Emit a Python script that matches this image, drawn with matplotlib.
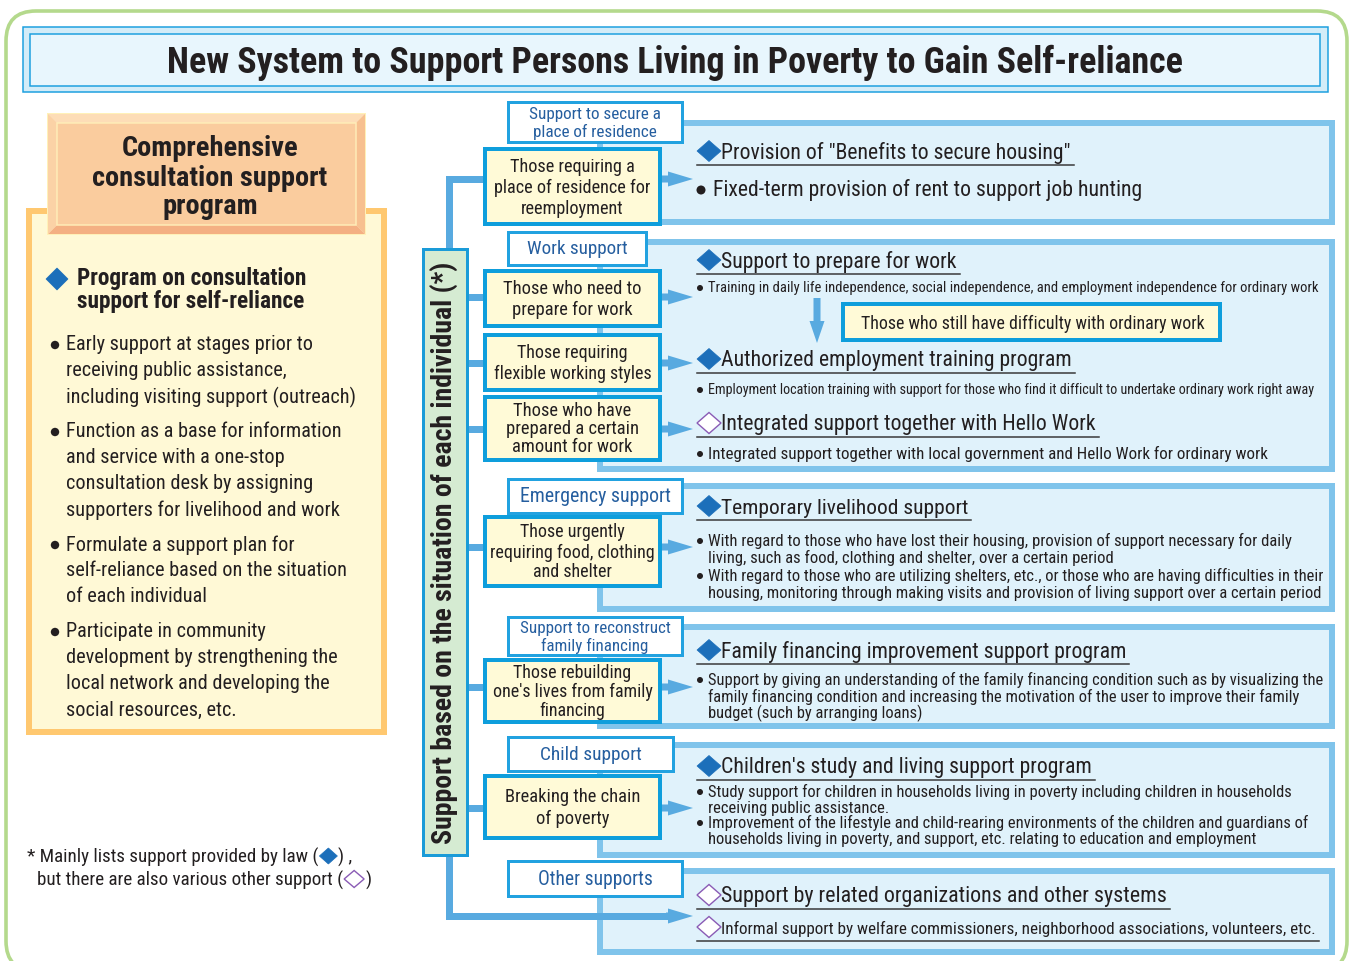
import matplotlib
matplotlib.use("Agg")
import matplotlib.pyplot as plt
from matplotlib.patches import Rectangle, FancyBboxPatch, Polygon, FancyArrow, Circle
from matplotlib import font_manager
from matplotlib.font_manager import FontProperties

# ---------------- data ----------------
TITLE = "New System to Support Persons Living in Poverty to Gain Self-reliance"
LEFT_HEADER = ["Comprehensive", "consultation support", "program"]
LEFT_SUB = ["Program on consultation", "support for self-reliance"]
LEFT_BULLETS = [
    ["Early support at stages prior to", "receiving public assistance,",
     "including visiting support (outreach)"],
    ["Function as a base for information", "and service with a one-stop",
     "consultation desk by assigning", "supporters for livelihood and work"],
    ["Formulate a support plan for", "self-reliance based on the situation",
     "of each individual"],
    ["Participate in community", "development by strengthening the",
     "local network and developing the", "social resources, etc."],
]
VERTICAL_LABEL = "Support based on the situation of each individual (*)"
FOOTNOTE_1 = ["* Mainly lists support provided by law (", ") ,"]
FOOTNOTE_2 = ["but there are also various other support (", ")"]

CATEGORIES = [["Support to secure a", "place of residence"], ["Work support"],
              ["Emergency support"], ["Support to reconstruct", "family financing"],
              ["Child support"], ["Other supports"]]
TARGETS = [["Those requiring a", "place of residence for", "reemployment"],
           ["Those who need to", "prepare for work"],
           ["Those requiring", "flexible working styles"],
           ["Those who have", "prepared a certain", "amount for work"],
           ["Those urgently", "requiring food, clothing", "and shelter"],
           ["Those rebuilding", "one's lives from family", "financing"],
           ["Breaking the chain", "of poverty"]]
STILL_DIFFICULT = "Those who still have difficulty with ordinary work"

PANEL_ITEMS = [
    [("law", ['Provision of "Benefits to secure housing"']),
     ("big", ["Fixed-term provision of rent to support job hunting"])],
    [("law", ["Support to prepare for work"]),
     ("bullet", ["Training in daily life independence, social independence, and employment independence for ordinary work"]),
     ("law", ["Authorized employment training program"]),
     ("bullet", ["Employment location training with support for those who find it difficult to undertake ordinary work right away"]),
     ("other", ["Integrated support together with Hello Work"]),
     ("bullet", ["Integrated support together with local government and Hello Work for ordinary work"])],
    [("law", ["Temporary livelihood support"]),
     ("bullet", ["With regard to those who have lost their housing, provision of support necessary for daily",
                 "living, such as food, clothing and shelter, over a certain period"]),
     ("bullet", ["With regard to those who are utilizing shelters, etc., or those who are having difficulties in their",
                 "housing, monitoring through making visits and provision of living support over a certain period"])],
    [("law", ["Family financing improvement support program"]),
     ("bullet", ["Support by giving an understanding of the family financing condition such as by visualizing the",
                 "family financing condition and increasing the motivation of the user to improve their family",
                 "budget (such by arranging loans)"])],
    [("law", ["Children's study and living support program"]),
     ("bullet", ["Study support for children in households living in poverty including children in households",
                 "receiving public assistance."]),
     ("bullet", ["Improvement of the lifestyle and child-rearing environments of the children and guardians of",
                 "households living in poverty, and support, etc. relating to education and employment"])],
    [("other", ["Support by related organizations and other systems"]),
     ("other", ["Informal support by welfare commissioners, neighborhood associations, volunteers, etc."])],
]

# ---------------- fonts ----------------
def _wt(w):
    if isinstance(w, (int, float)):
        return int(w)
    return font_manager.weight_dict.get(str(w), 400)


FAMILY_PREF = ["Liberation Sans", "Roboto", "DejaVu Sans", "Open Sans", "Noto Sans", "Lato", "Inter"]


def pick_font(bold):
    best, best_key = None, None
    for f in font_manager.fontManager.ttflist:
        if f.style != "normal":
            continue
        nm = f.name
        fn = f.fname.lower().replace("-", "").replace("_", "")
        if "mono" in nm.lower() or "serif" in nm.lower():
            continue
        if "extracond" in fn or "ultracond" in fn:
            continue
        cond = ("Narrow" in nm) or ("Condensed" in nm) or ("condensed" in str(f.stretch)) \
            or ("narrow" in fn) or ("condensed" in fn)
        if not cond:
            continue
        fam_rank = len(FAMILY_PREF)
        for i, p in enumerate(FAMILY_PREF):
            if nm.startswith(p):
                fam_rank = i
                break
        semi = 1 if ("semicond" in fn or "semi" in str(f.stretch)) else 0
        key = (fam_rank, semi, abs(_wt(f.weight) - (700 if bold else 400)))
        if best_key is None or key < best_key:
            best, best_key = f, key
    if best is not None and abs(_wt(best.weight) - (700 if bold else 400)) <= 150:
        return FontProperties(fname=best.fname)
    return FontProperties(family=["Liberation Sans", "DejaVu Sans"],
                          weight="bold" if bold else "normal")


FP_REG = pick_font(False)
FP_BOLD = pick_font(True)

# ---------------- layout ----------------
TXT = "#231F20"
BLUE_TXT = "#255E9F"
LINE_C = "#58AAE0"
PANEL_EC = "#80C4EB"
PANEL_FC = "#E0F2FB"
YEL_FC = "#FFFAD7"
YEL_EC = "#0E9EDC"
LAW_C = "#1C6FBA"
OTHER_C = "#8A5BB5"

CAT_BOX = [(508, 103, 682, 143), (508, 233, 646, 266), (508, 480, 682, 514),
           (508, 618, 682, 656), (508, 738, 673, 772), (508, 862, 682, 897)]
CAT_FIT = [131, 101, 150, 150, 102, 114]
TGT_BOX = [(485, 150, 660, 225), (485, 272, 660, 327), (485, 336, 660, 391),
           (485, 398, 660, 461), (485, 518, 660, 587), (485, 661, 660, 723),
           (485, 777, 660, 839)]
TGT_FIT = [156, 137, 157, 132, 165, 159, 134]
TGT_GAP = [21, 21, 21, 18, 20, 19, 21]
ARROW_Y = [180, 298, 364, 430, 548, 688, 809]
PANELS = [(600, 124, 1332, 223), (600, 243, 1332, 470), (600, 487, 1332, 610),
          (600, 628, 1332, 727), (600, 746, 1332, 856), (600, 872, 1332, 953)]
ITEM_Y = [[153, 190], [262, 288, 361, 390, 425, 454], [508, 541, 576],
          [652, 680], [768, 792, 823], [897, 929]]
ITEM_W = [[349, 428], [236, 606, 349, 608, 373, 556], [247, 579, 612],
          [405, 613], [372, 581, 597], [443, 592]]
ITEM_GAP = 16.5

fig = plt.figure(figsize=(13.5, 9.62), dpi=100)
ax = fig.add_axes([0, 0, 1, 1])
ax.set_xlim(0, 1350)
ax.set_ylim(962, 0)
ax.axis("off")
R = fig.canvas.get_renderer()


def _fp(bold, size):
    fp = (FP_BOLD if bold else FP_REG).copy()
    fp.set_size(size)
    return fp


def fit_size(s, target, bold=False):
    t = ax.text(0, 0, s, fontproperties=_fp(bold, 10))
    w = t.get_window_extent(renderer=R).width
    t.remove()
    return 10.0 * target / w


def put(x, y, s, size, ha="left", va="center", bold=False, color=TXT, rot=0, z=10):
    return ax.text(x, y, s, fontproperties=_fp(bold, size), ha=ha, va=va,
                   color=color, rotation=rot, zorder=z)


def rect(x0, y0, x1, y1, fc, ec, lwpx, z=2):
    ax.add_patch(Rectangle((x0, y0), x1 - x0, y1 - y0, fc=fc, ec=ec,
                           lw=lwpx * 0.72, zorder=z, joinstyle="miter"))


def diamond(x, y, hw, hh, filled, z=12):
    pts = [(x - hw, y), (x, y - hh), (x + hw, y), (x, y + hh)]
    if filled:
        ax.add_patch(Polygon(pts, closed=True, fc=LAW_C, ec=LAW_C, lw=0.5, zorder=z))
    else:
        ax.add_patch(Polygon(pts, closed=True, fc="white", ec=OTHER_C, lw=1.0, zorder=z))


def line(xs, ys, w=7, z=3, color=LINE_C):
    ax.plot(xs, ys, color=color, lw=w * 0.72, solid_capstyle="butt",
            solid_joinstyle="miter", zorder=z)


def arrow_r(x0, x1, y, z=4):
    ax.add_patch(FancyArrow(x0, y, x1 - x0, 0, width=7, head_width=15, head_length=25,
                            length_includes_head=True, color=LINE_C, lw=0, zorder=z))


# outer green rounded frame
ax.add_patch(FancyBboxPatch((6, 12), 1341, 960, boxstyle="round,pad=0,rounding_size=30",
                            fc="white", ec="#B4D98C", lw=2.6, zorder=0))

# title
rect(23, 28, 1328, 93, "#D3ECF8", "#1B9FDF", 1.5, z=1)
rect(30, 35, 1320, 87, "#E8F6FD", "#1B9FDF", 1.5, z=1)
put(675, 63, TITLE, fit_size(TITLE, 1018, True), ha="center", bold=True)

# left framed box
rect(29, 212, 384, 733, "#FFF9D6", "#FFC870", 6, z=1)
# bevelled header
hx0, hy0, hx1, hy1, b = 48, 115, 365, 235, 9
rect(hx0, hy0, hx1, hy1, "#FDE3C0", "#FFF1B8", 2, z=2)
ax.add_patch(Polygon([(hx0, hy0), (hx1, hy0), (hx1 - b, hy0 + b), (hx0 + b, hy0 + b)],
                     fc="#FDDDB7", ec="none", zorder=3))
ax.add_patch(Polygon([(hx0, hy1), (hx1, hy1), (hx1 - b, hy1 - b), (hx0 + b, hy1 - b)],
                     fc="#F4B083", ec="none", zorder=3))
ax.add_patch(Polygon([(hx0, hy0), (hx0 + b, hy0 + b), (hx0 + b, hy1 - b), (hx0, hy1)],
                     fc="#FBD2A6", ec="none", zorder=3))
ax.add_patch(Polygon([(hx1, hy0), (hx1 - b, hy0 + b), (hx1 - b, hy1 - b), (hx1, hy1)],
                     fc="#F7C090", ec="none", zorder=3))
rect(hx0 + b, hy0 + b, hx1 - b, hy1 - b, "#FACC9E", "#FFEDB8", 1.5, z=4)
hs = fit_size(LEFT_HEADER[1], 235, True)
for i, s in enumerate(LEFT_HEADER):
    put(210, 149 + 29 * i, s, hs, ha="center", bold=True)

diamond(57, 280, 11, 11, True)
ss = fit_size(LEFT_SUB[0], 229, True)
for i, s in enumerate(LEFT_SUB):
    put(77, 279 + 23 * i, s, ss, bold=True)

bs = fit_size(LEFT_BULLETS[0][2], 288)
LEFT_START = [345, 432, 545, 632]
for g, lines in enumerate(LEFT_BULLETS):
    ax.add_patch(Circle((55, LEFT_START[g] + 1), 4.2, fc=TXT, ec="none", zorder=11))
    for i, s in enumerate(lines):
        put(66, LEFT_START[g] + 26 * i, s, bs)

# footnote
fs = fit_size(FOOTNOTE_1[0], 291)
t1 = put(27, 857, FOOTNOTE_1[0], fs)
w1 = t1.get_window_extent(renderer=R).width
diamond(27 + w1 + 10, 857, 9, 8, True)
put(27 + w1 + 20, 857, FOOTNOTE_1[1], fs)
t2 = put(37, 880, FOOTNOTE_2[0], fs)
w2 = t2.get_window_extent(renderer=R).width
diamond(37 + w2 + 11, 880, 10, 8.5, False)
put(37 + w2 + 22, 880, FOOTNOTE_2[1], fs)

# connectors from vertical box
line([449, 449, 486], [250, 180, 180])
for y in ARROW_Y[1:]:
    line([466, 486], [y, y])
line([449, 449, 670], [856, 917, 917])
ax.add_patch(FancyArrow(666, 917, 27, 0, width=7, head_width=15, head_length=25,
                        length_includes_head=True, color=LINE_C, lw=0, zorder=4))

# vertical label box
rect(423, 250, 467, 856, "#D5EBD2", "#1A9BD8", 3, z=5)
put(444, 553, VERTICAL_LABEL, fit_size(VERTICAL_LABEL, 585, True), ha="center",
    bold=True, rot=90)

# right panels
for (x0, y0, x1, y1) in PANELS:
    rect(x0, y0, x1, y1, PANEL_FC, PANEL_EC, 6, z=2)

# category label boxes
for k, (box, lines) in enumerate(zip(CAT_BOX, CATEGORIES)):
    x0, y0, x1, y1 = box
    rect(x0, y0, x1, y1, "white", "#22A2E0", 3, z=6)
    sz = fit_size(lines[0], CAT_FIT[k])
    cy = (y0 + y1) / 2
    n = len(lines)
    for i, s in enumerate(lines):
        put((x0 + x1) / 2, cy + (i - (n - 1) / 2) * 17.5, s, sz, ha="center",
            color=BLUE_TXT, z=7)

# target (yellow) boxes and arrows
for k, (box, lines) in enumerate(zip(TGT_BOX, TARGETS)):
    x0, y0, x1, y1 = box
    rect(x0, y0, x1, y1, YEL_FC, YEL_EC, 4, z=6)
    widest = max(lines, key=len)
    sz = fit_size(widest, TGT_FIT[k])
    cy = (y0 + y1) / 2
    n = len(lines)
    for i, s in enumerate(lines):
        put((x0 + x1) / 2, cy + (i - (n - 1) / 2) * TGT_GAP[k], s, sz, ha="center", z=7)
    arrow_r(660, 693, ARROW_Y[k])

# down arrow + "still difficult" box in work panel
ax.add_patch(FancyArrow(817, 299, 0, 45, width=7, head_width=15, head_length=22,
                        length_includes_head=True, color=LINE_C, lw=0, zorder=4))
rect(843, 305, 1220, 341, YEL_FC, YEL_EC, 4, z=6)
put(1033, 324, STILL_DIFFICULT, fit_size(STILL_DIFFICULT, 343), ha="center", z=7)

# panel content
for p, items in enumerate(PANEL_ITEMS):
    for j, (kind, lines) in enumerate(items):
        y = ITEM_Y[p][j]
        sz = fit_size(lines[0], ITEM_W[p][j])
        if kind in ("law", "other"):
            diamond(709, y - 1, 12, 10.5, kind == "law")
            t = put(721, y, lines[0], sz)
            w = t.get_window_extent(renderer=R).width
            ax.plot([697, 721 + w + 3], [y + 12.5, y + 12.5], color="#3a3a3a",
                    lw=1.1, zorder=9)
        elif kind == "big":
            ax.add_patch(Circle((701, y + 1), 4.5, fc=TXT, ec="none", zorder=11))
            put(713, y, lines[0], sz)
        else:
            ax.add_patch(Circle((700, y + 1), 3.0, fc=TXT, ec="none", zorder=11))
            for i, s in enumerate(lines):
                put(708, y + ITEM_GAP * i, s, sz)

fig.savefig("out.png", dpi=100)
